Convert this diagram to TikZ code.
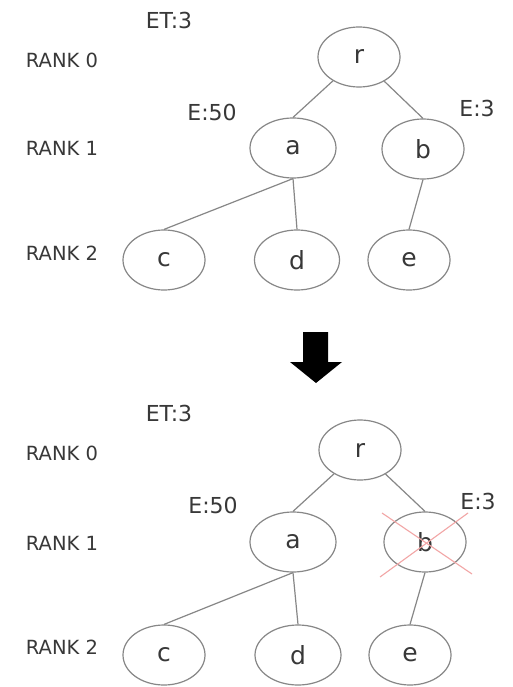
\documentclass[tikz,border=0pt]{standalone}
\usepackage{fontspec}
\setmainfont{DejaVu Sans}
\usetikzlibrary{shapes.geometric}
\definecolor{txt}{HTML}{383838}
\definecolor{ln}{HTML}{878787}
\definecolor{xred}{HTML}{F2A6A6}
\tikzset{
  tnode/.style={ellipse,draw=ln,line width=1.2pt,minimum width=82pt,minimum height=60pt,inner sep=0pt,text=txt,font=\fontsize{25}{25}\selectfont},
  rank/.style={text=txt,font=\fontsize{19.5}{20}\selectfont,inner sep=0pt},
  lab/.style={text=txt,font=\fontsize{22}{22}\selectfont,inner sep=0pt},
  edge/.style={draw=ln,line width=1.2pt},
  cross/.style={draw=xred,line width=1.1pt}
}
\begin{document}
\begin{tikzpicture}[x=1pt,y=-1pt]
\useasboundingbox[fill=white] (0,0) rectangle (513,687);
% ---------- top tree ----------
\node[lab] (et1) at (169,20) {ET:3};
\node[rank] (rk01) at (62,60) {RANK 0};
\node[rank] (rk11) at (62,148) {RANK 1};
\node[rank] (rk21) at (62,253) {RANK 2};
\node[lab] (e501) at (212,112) {E:50};
\node[lab] (e31) at (477,108) {E:3};
\node[tnode] (r1) at (359,57) {r};
\node[tnode,minimum width=86pt] (a1) at (293,148) {a};
\node[tnode] (b1) at (423,149) {b};
\node[tnode] (c1) at (164,260) {c};
\node[tnode,minimum width=85pt] (d1) at (297,260) {d};
\node[tnode] (e1) at (409,260) {e};
\draw[edge] (r1) -- (a1.north);
\draw[edge] (r1) -- (b1.north);
\draw[edge] (a1.south) -- (c1.north);
\draw[edge] (a1.south) -- (d1.north);
\draw[edge] (b1.south) -- (e1.north);
% ---------- arrow ----------
\fill[black] (303,332) -- (328,332) -- (328,362) -- (342,362) -- (316,383) -- (290,362) -- (303,362) -- cycle;
% ---------- bottom tree ----------
\node[lab] (et2) at (169,413) {ET:3};
\node[rank] (rk02) at (62,453) {RANK 0};
\node[rank] (rk12) at (62,543) {RANK 1};
\node[rank] (rk22) at (62,647) {RANK 2};
\node[lab] (e502) at (213,505) {E:50};
\node[lab] (e32) at (478,501) {E:3};
\node[tnode] (r2) at (360,450) {r};
\node[tnode,minimum width=86pt] (a2) at (293,542) {a};
\node[tnode] (b2) at (425,542) {b};
\node[tnode] (c2) at (164,655) {c};
\node[tnode,minimum width=86pt] (d2) at (298,655) {d};
\node[tnode] (e2) at (410,655) {e};
\draw[edge] (r2) -- (a2.north);
\draw[edge] (r2) -- (b2.north);
\draw[edge] (a2.south) -- (c2.north);
\draw[edge] (a2.south) -- (d2.north);
\draw[edge] (b2.south) -- (e2.north);
\coordinate (x1) at ([shift={(-43,-29)}]b2.center);
\coordinate (x2) at ([shift={(47,32)}]b2.center);
\coordinate (x3) at ([shift={(-45,35)}]b2.center);
\coordinate (x4) at ([shift={(43,-29)}]b2.center);
\draw[cross] (x1) -- (x2);
\draw[cross] (x3) -- (x4);
\end{tikzpicture}
\end{document}
